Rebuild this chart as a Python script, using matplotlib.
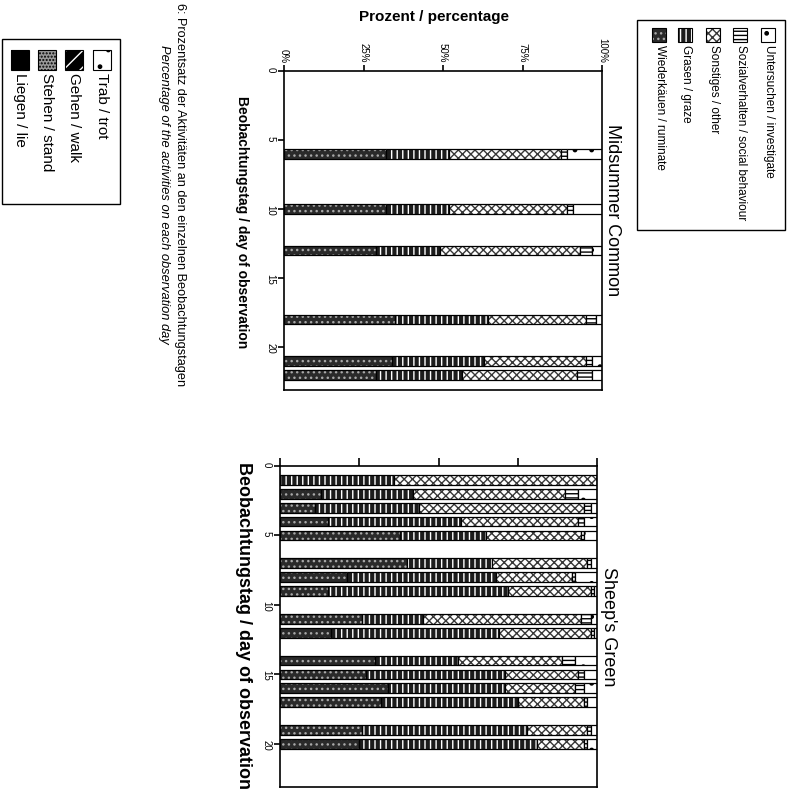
import numpy as np
import matplotlib.pyplot as plt
from matplotlib.patches import Rectangle

# Midsummer Common
mc_days = [6, 10, 13, 18, 21, 22]
mc_ruminate = [32, 32, 29, 35, 34, 29]
mc_graze = [20, 20, 20, 29, 29, 27]
mc_other = [35, 37, 44, 31, 32, 36]
mc_social = [2, 2, 4, 3, 2, 5]
mc_investigate = [11, 9, 3, 2, 3, 3]

# Sheep's Green
sg_days = [1, 2, 3, 4, 5, 7, 8, 9, 11, 12, 14, 15, 16, 17, 19, 20]
sg_ruminate = [0, 13, 11, 15, 38, 40, 21, 15, 26, 16, 30, 27, 34, 32, 26, 25]
sg_graze = [36, 29, 33, 42, 27, 27, 47, 57, 19, 53, 26, 44, 37, 43, 52, 56]
sg_other = [64, 48, 52, 37, 30, 30, 24, 26, 50, 29, 33, 23, 22, 21, 19, 15]
sg_social = [0, 4, 2, 2, 1, 1, 1, 1, 3, 1, 4, 2, 3, 1, 1, 1]
sg_investigate = [0, 6, 2, 4, 4, 2, 7, 1, 2, 1, 7, 4, 4, 3, 2, 3]

pct_ticks = [0, 25, 50, 75, 100]
pct_labels = ['0%', '25%', '50%', '75%', '100%']
day_ticks = [0, 5, 10, 15, 20]

legend_labels = ['Untersuchen / investigate', 'Sozialverhalten / social behaviour',
                 'Sonstiges / other', 'Grasen / graze', 'Wiederkäuen / ruminate']
other_labels = ['Trab / trot', 'Gehen / walk', 'Stehen / stand', 'Liegen / lie']

plt.rcParams['font.family'] = ['Liberation Sans', 'DejaVu Sans']
plt.rcParams['hatch.linewidth'] = 1.0

# order from 0% upward: ruminate, graze, other, social, investigate
styles = [
    ('#2a2a2a', '...', '#a8a8a8'),
    ('#1c1c1c', '|||', 'white'),
    ('white', 'xxxx', '#383838'),
    ('white', '----', 'black'),
    ('white', '.', 'black'),
]

W, H = 791, 793
fig = plt.figure(figsize=(W / 100, H / 100), dpi=100)


def fx(x):
    return x / W


def fy(y):
    return 1 - y / H


ax1 = fig.add_axes([fx(284), fy(390), 318 / W, 319 / H])
ax2 = fig.add_axes([fx(280), fy(787), 317 / W, 321 / H])


def draw_panel(ax, days, parts):
    left = np.zeros(len(days))
    for vals, (face, hatch, hc) in zip(parts, styles):
        ax.barh(days, vals, left=left, height=0.7, color=face, hatch=hatch,
                edgecolor=hc, linewidth=0)
        ax.barh(days, vals, left=left, height=0.7, fill=False,
                edgecolor='black', linewidth=0.9)
        left = left + np.array(vals)


draw_panel(ax1, mc_days, [mc_ruminate, mc_graze, mc_other, mc_social, mc_investigate])
draw_panel(ax2, sg_days, [sg_ruminate, sg_graze, sg_other, sg_social, sg_investigate])

for ax in (ax1, ax2):
    ax.set_xlim(0, 100)
    ax.set_ylim(23.1, 0)
    ax.xaxis.tick_top()
    ax.set_xticks(pct_ticks)
    ax.set_yticks(day_ticks)
    ax.tick_params(direction='out', length=4, width=1.2, labelsize=7, pad=2)
    ax.set_yticklabels([str(d) for d in day_ticks], rotation=-90)
    for s in ax.spines.values():
        s.set_linewidth(1.2)
ax1.set_xticklabels(pct_labels, rotation=-90)
ax2.set_xticklabels([])
ax2.tick_params(axis='x', length=6)

fig.text(fx(434), fy(17), 'Prozent / percentage', ha='center', va='center',
         fontsize=11, fontweight='bold')
fig.text(fx(613), fy(210), 'Midsummer Common', rotation=-90, ha='center',
         va='center', fontsize=13)
fig.text(fx(608), fy(627), "Sheep's Green", rotation=-90, ha='center',
         va='center', fontsize=13)
fig.text(fx(242), fy(222), 'Beobachtungstag / day of observation', rotation=-90,
         ha='center', va='center', fontsize=10, fontweight='bold')
fig.text(fx(243), fy(625), 'Beobachtungstag / day of observation', rotation=-90,
         ha='center', va='center', fontsize=13, fontweight='bold')

# caption
fig.text(fx(180), fy(3), '6: Prozentsatz der Aktivitäten an den einzelnen Beobachtungstagen',
         rotation=-90, ha='center', va='top', fontsize=9.2)
fig.text(fx(164), fy(45), 'Percentage of the activities on each observation day',
         rotation=-90, ha='center', va='top', fontsize=9.3, style='italic')

# activity legend (drawn rotated like the rest of the page)
fig.add_artist(Rectangle((fx(637), fy(230)), 148 / W, 210 / H, transform=fig.transFigure,
                         fill=False, edgecolor='black', linewidth=1))
leg_x = [768, 740, 713, 685, 659]
for lab, cx, (face, hatch, hc) in zip(legend_labels, leg_x, styles[::-1]):
    fig.add_artist(Rectangle((fx(cx - 7), fy(42)), 14 / W, 14 / H, transform=fig.transFigure,
                             facecolor=face, hatch=hatch, edgecolor=hc, linewidth=0))
    fig.add_artist(Rectangle((fx(cx - 7), fy(42)), 14 / W, 14 / H, transform=fig.transFigure,
                             fill=False, edgecolor='black', linewidth=0.8))
    fig.text(fx(cx + 1), fy(45), lab, rotation=-90, ha='center', va='top', fontsize=8.5)

# posture legend of the neighbouring figure
other_styles = [('white', '.', 'black'), ('black', '//', 'white'),
                ('#9a9a9a', '.....', 'black'), ('black', '', 'black')]
fig.add_artist(Rectangle((fx(2), fy(204)), 118 / W, 165 / H, transform=fig.transFigure,
                         fill=False, edgecolor='black', linewidth=1))
oth_x = [102, 74, 47, 20]
for lab, cx, (face, hatch, hc) in zip(other_labels, oth_x, other_styles):
    fig.add_artist(Rectangle((fx(cx - 9), fy(70)), 18 / W, 20 / H, transform=fig.transFigure,
                             facecolor=face, hatch=hatch, edgecolor=hc, linewidth=0))
    fig.add_artist(Rectangle((fx(cx - 9), fy(70)), 18 / W, 20 / H, transform=fig.transFigure,
                             fill=False, edgecolor='black', linewidth=0.8))
    fig.text(fx(cx), fy(73), lab, rotation=-90, ha='center', va='top', fontsize=11)

fig.savefig('out.png', dpi=100)
